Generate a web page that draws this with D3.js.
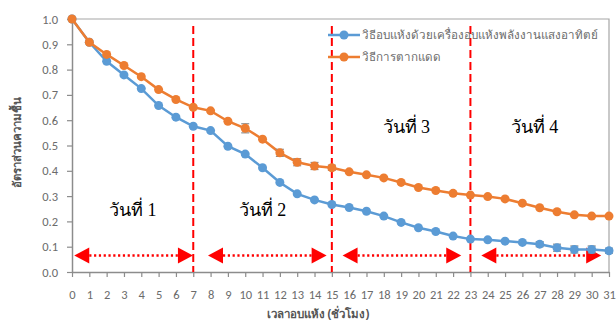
<!DOCTYPE html>
<html>
<head>
<meta charset="utf-8">
<script src="https://cdn.jsdelivr.net/npm/d3@7"></script>
<style>
  html, body { margin: 0; padding: 0; background: #fff; }
  svg { display: block; }
</style>
</head>
<body>
<svg id="chart" width="616" height="328"></svg>
<script>
// Drying time in hours
const hours = d3.range(0, 32);

// Moisture ratio, solar dryer
const solarDryer = [1.0, 0.908, 0.833, 0.779, 0.725, 0.658, 0.612, 0.576, 0.559, 0.497,
  0.466, 0.412, 0.354, 0.309, 0.285, 0.267, 0.255, 0.240, 0.221, 0.196,
  0.175, 0.160, 0.142, 0.130, 0.127, 0.122, 0.117, 0.110, 0.096, 0.089, 0.089, 0.084];
const solarDryerErr = [0, 0, 0, 0, 0, 0, 0, 0, 0, 0,
  0, 0, 0, 0, 0, 0, 0, 0, 0, 0,
  0, 0, 0, 0, 0, 0, 0, 0.010, 0.014, 0.014, 0.014, 0.010];

// Moisture ratio, open sun drying
const sunDrying = [1.0, 0.908, 0.860, 0.816, 0.772, 0.721, 0.682, 0.651, 0.637, 0.596,
  0.568, 0.525, 0.471, 0.434, 0.419, 0.412, 0.396, 0.384, 0.372, 0.354,
  0.334, 0.322, 0.311, 0.304, 0.298, 0.289, 0.272, 0.254, 0.238, 0.226, 0.221, 0.221];
const sunDryingErr = [0, 0, 0, 0, 0, 0, 0, 0, 0, 0,
  0.018, 0, 0.014, 0.014, 0.014, 0.010, 0, 0, 0, 0,
  0, 0, 0, 0, 0, 0, 0, 0, 0, 0, 0, 0];

const seriesNames = ["วิธีอบแห้งด้วยเครื่องอบแห้งพลังงานแสงอาทิตย์", "วิธีการตากแดด"];
const seriesColors = ["#5B9BD5", "#ED7D31"];

const yTicks = [0, 0.1, 0.2, 0.3, 0.4, 0.5, 0.6, 0.7, 0.8, 0.9, 1.0];

// Day boundaries (hours) and day spans for the arrows
const dayBounds = [7, 15, 23];
const dayLabels = ["วันที่ 1", "วันที่ 2", "วันที่ 3", "วันที่ 4"];
const dayLabelPos = [[3.5, 0.22], [11.0, 0.22], [19.3, 0.55], [26.7, 0.55]];
const dayArrows = [[0.13, 6.98], [7.85, 14.7], [15.62, 22.47], [23.63, 30.55]];
const arrowLevel = 0.065;

const xTitle = "เวลาอบแห้ง (ชั่วโมง)";
const yTitle = "อัตราส่วนความชื้น";

const svg = d3.select("#chart");
const pLeft = 72, pRight = 609, pTop = 19, pBottom = 272;

const x = d3.scaleLinear().domain([0, 31]).range([pLeft, pRight]);
const y = d3.scaleLinear().domain([0, 1]).range([pBottom, pTop]);

const uiFont = "'Noto Sans', Tahoma, sans-serif";
const serifFont = "'Liberation Serif', 'Times New Roman', serif";

// plot frame (top and right)
svg.append("path")
  .attr("d", `M${pLeft},${pTop}H${pRight}V${pBottom}`)
  .attr("fill", "none").attr("stroke", "#a6a6a6").attr("stroke-width", 1.2);

// axes
const xAxis = d3.axisBottom(x).tickValues(hours).tickFormat(d3.format("d")).tickSize(5).tickSizeOuter(0);
const yAxis = d3.axisLeft(y).tickValues(yTicks).tickFormat(d3.format(".1f")).tickSize(5).tickSizeOuter(0);

const gx = svg.append("g").attr("transform", `translate(0,${pBottom})`).call(xAxis);
const gy = svg.append("g").attr("transform", `translate(${pLeft},0)`).call(yAxis);
[gx, gy].forEach(g => {
  g.select(".domain").attr("stroke", "#8c8c8c").attr("stroke-width", 1.5);
  g.selectAll(".tick line").attr("stroke", "#8c8c8c").attr("stroke-width", 1.2);
  g.selectAll(".tick text").attr("fill", "#6b6b6b")
    .style("font-family", "Carlito, Calibri, 'Liberation Sans', sans-serif").style("font-size", "12.5px");
});
gx.selectAll(".tick text").attr("dy", "0").attr("y", 27);
gy.selectAll(".tick text").attr("x", -14);

// axis titles
svg.append("text").attr("x", 318).attr("y", 318).attr("text-anchor", "middle")
  .attr("fill", "#555").style("font-family", uiFont).style("font-size", "11.5px").style("font-weight", "bold")
  .text(xTitle);
svg.append("text").attr("transform", `translate(21,142) rotate(-90)`).attr("text-anchor", "middle")
  .attr("fill", "#555").style("font-family", uiFont).style("font-size", "11.5px").style("font-weight", "bold")
  .text(yTitle);

// day boundary lines
svg.append("g").selectAll("line").data(dayBounds).join("line")
  .attr("x1", d => x(d)).attr("x2", d => x(d))
  .attr("y1", 26).attr("y2", pBottom)
  .attr("stroke", "#ff0000").attr("stroke-width", 2).attr("stroke-dasharray", "8,4");

// day labels
svg.append("g").selectAll("text").data(dayLabels).join("text")
  .attr("x", (d, i) => x(dayLabelPos[i][0])).attr("y", (d, i) => y(dayLabelPos[i][1]))
  .attr("text-anchor", "middle").attr("fill", "#000")
  .style("font-family", serifFont).style("font-size", "18px")
  .text(d => d);

// day span arrows
const ag = svg.append("g");
dayArrows.forEach(([a, b]) => {
  const ya = y(arrowLevel), xa = x(a), xb = x(b), w = 15, h = 8;
  ag.append("line").attr("x1", xa + w).attr("x2", xb - w).attr("y1", ya).attr("y2", ya)
    .attr("stroke", "#ff0000").attr("stroke-width", 2.5).attr("stroke-dasharray", "2.2,2.6");
  ag.append("path").attr("d", `M${xa},${ya}L${xa + w},${ya - h}L${xa + w},${ya + h}Z`).attr("fill", "#ff0000");
  ag.append("path").attr("d", `M${xb},${ya}L${xb - w},${ya - h}L${xb - w},${ya + h}Z`).attr("fill", "#ff0000");
});

// series
const series = [
  { values: solarDryer, err: solarDryerErr, color: seriesColors[0] },
  { values: sunDrying, err: sunDryingErr, color: seriesColors[1] }
];
const line = d3.line().x((d, i) => x(hours[i])).y(d => y(d));

series.forEach(s => {
  const g = svg.append("g");
  g.append("path").datum(s.values).attr("d", line)
    .attr("fill", "none").attr("stroke", s.color).attr("stroke-width", 2.5);
  const eb = g.append("g").selectAll("g").data(s.values.map((v, i) => ({ v, e: s.err[i], h: hours[i] })).filter(d => d.e > 0)).join("g");
  eb.append("line").attr("x1", d => x(d.h)).attr("x2", d => x(d.h))
    .attr("y1", d => y(d.v - d.e)).attr("y2", d => y(d.v + d.e)).attr("stroke", "#8c8c8c").attr("stroke-width", 1.2);
  [1, -1].forEach(sg => eb.append("line").attr("x1", d => x(d.h) - 4).attr("x2", d => x(d.h) + 4)
    .attr("y1", d => y(d.v + sg * d.e)).attr("y2", d => y(d.v + sg * d.e)).attr("stroke", "#8c8c8c").attr("stroke-width", 1.2));
  g.append("g").selectAll("circle").data(s.values).join("circle")
    .attr("cx", (d, i) => x(hours[i])).attr("cy", d => y(d)).attr("r", 4.5).attr("fill", s.color);
});

// legend
const lg = svg.append("g");
seriesNames.forEach((name, i) => {
  const ly = 35 + i * 22;
  lg.append("line").attr("x1", 328).attr("x2", 360).attr("y1", ly).attr("y2", ly)
    .attr("stroke", seriesColors[i]).attr("stroke-width", 2.5);
  lg.append("circle").attr("cx", 344).attr("cy", ly).attr("r", 4.5).attr("fill", seriesColors[i]);
  lg.append("text").attr("x", 362).attr("y", ly + 4).attr("fill", "#6b6b6b")
    .style("font-family", uiFont).style("font-size", "11.6px").text(name);
});
</script>
</body>
</html>
